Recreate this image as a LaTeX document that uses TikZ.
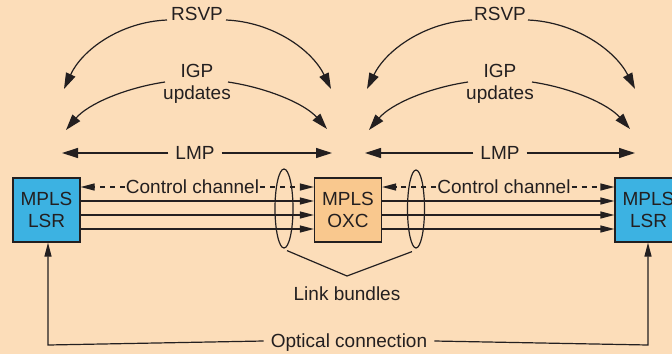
\documentclass[tikz,border=0pt]{standalone}
\usepackage{fontspec}
\setmainfont{Liberation Sans}
\usetikzlibrary{arrows.meta,calc,shapes.geometric}
\definecolor{bgc}{HTML}{FCDDB9}
\definecolor{lsrc}{HTML}{3CB2E2}
\definecolor{oxcc}{HTML}{F9C88E}
\definecolor{ink}{HTML}{231F20}
\begin{document}
\begin{tikzpicture}[x=1pt,y=-1pt,
  lbl/.style={font=\fontsize{19}{22}\selectfont, text=ink, inner sep=1pt},
  boxnode/.style={draw=ink, line width=1.2pt, minimum width=67pt, minimum height=64pt, align=center, font=\fontsize{19}{22}\selectfont, text=ink, inner sep=0pt},
  ln/.style={draw=ink, line width=1.2pt},
  bigtip/.style={-{Triangle[length=16pt,width=10pt]}},
  smalltip/.style={-{Triangle[length=14pt,width=7pt]}},
  dashln/.style={ln, dash pattern=on 5pt off 5pt}
]
\fill[bgc] (0,0) rectangle (672,354);
\useasboundingbox (0,0) rectangle (672,354);

% boxes
\node[boxnode, fill=lsrc] (lsrL) at (46.5,210) {MPLS\\LSR};
\node[boxnode, fill=oxcc] (oxc) at (348,210) {MPLS\\OXC};
\node[boxnode, fill=lsrc] (lsrR) at (648.5,210) {MPLS\\LSR};

% top labels, left group
\node[lbl] (rsvpL) at (197,14) {RSVP};
\node[lbl, align=center] (igpL) at (197,84) {IGP\\updates};
\node[lbl] (lmpL) at (195,153) {LMP};
\node[lbl] (rsvpR) at (500,14) {RSVP};
\node[lbl, align=center] (igpR) at (500,84) {IGP\\updates};
\node[lbl] (lmpR) at (500,153) {LMP};

% arc end coordinates
\coordinate (r1s) at (167,20); \coordinate (r1e) at (64,89);
\coordinate (r2s) at (226,20); \coordinate (r2e) at (331,89);
\coordinate (i1s) at (165,82); \coordinate (i1e) at (66,130);
\coordinate (i2s) at (228,82); \coordinate (i2e) at (327,129);
\coordinate (r3s) at (472,20); \coordinate (r3e) at (367,89);
\coordinate (r4s) at (528,20); \coordinate (r4e) at (635,89);
\coordinate (i3s) at (468,82); \coordinate (i3e) at (369,130);
\coordinate (i4s) at (532,82); \coordinate (i4e) at (630,129);

\draw[ln, bigtip] (r1s) .. controls (120,22) and (82,50) .. (r1e);
\draw[ln, bigtip] (r2s) .. controls (273,22) and (312,50) .. (r2e);
\draw[ln, bigtip] (i1s) .. controls (125,88) and (88,104) .. (i1e);
\draw[ln, bigtip] (i2s) .. controls (268,88) and (305,104) .. (i2e);
\draw[ln, bigtip] (r3s) .. controls (425,22) and (386,50) .. (r3e);
\draw[ln, bigtip] (r4s) .. controls (575,22) and (615,50) .. (r4e);
\draw[ln, bigtip] (i3s) .. controls (428,88) and (391,104) .. (i3e);
\draw[ln, bigtip] (i4s) .. controls (572,88) and (608,104) .. (i4e);

% LMP
\coordinate (m1) at (62,153); \coordinate (m2) at (332,153);
\coordinate (m3) at (365,153); \coordinate (m4) at (635,153);
\draw[ln, bigtip] ([xshift=-6pt]lmpL.west) -- (m1);
\draw[ln, bigtip] ([xshift=6pt]lmpL.east) -- (m2);
\draw[ln, bigtip] ([xshift=-6pt]lmpR.west) -- (m3);
\draw[ln, bigtip] ([xshift=6pt]lmpR.east) -- (m4);

% control channels
\node[lbl] (ccL) at (192.5,187) {Control channel};
\node[lbl] (ccR) at (504,187) {Control channel};
\draw[dashln, smalltip] (ccL.west) -- (lsrL.east |- ccL.west);
\draw[dashln, smalltip] (ccL.east) -- (oxc.west |- ccL.east);
\draw[dashln, smalltip] (ccR.west) -- (oxc.east |- ccR.west);
\draw[dashln, smalltip] (ccR.east) -- (lsrR.west |- ccR.east);

% data links
\foreach \yy in {201,215,229}{
  \draw[ln, smalltip] (lsrL.east |- 0,\yy) -- (oxc.west |- 0,\yy);
  \draw[ln, smalltip] (oxc.east |- 0,\yy) -- (lsrR.west |- 0,\yy);
}

% link bundles
\node[draw=ink, line width=1.2pt, ellipse, minimum width=18pt, minimum height=79pt, inner sep=0pt] (elL) at (284,208.5) {};
\node[draw=ink, line width=1.2pt, ellipse, minimum width=17pt, minimum height=78pt, inner sep=0pt] (elR) at (416,209) {};
\coordinate (apex) at (347,276);
\node[lbl] (lb) at (347,294) {Link bundles};
\draw[ln] ([xshift=3pt,yshift=-2pt]elL.south) -- (apex) -- ([xshift=-4pt,yshift=-3pt]elR.south);

% optical connection
\node[lbl] (oc) at (349,343) {Optical connection};
\coordinate (cL) at (48,345);
\coordinate (cR) at (648,345);
\draw[ln, smalltip] ([xshift=-6pt,yshift=2pt]oc.west) -- (cL) -- (lsrL.south -| cL);
\draw[ln, smalltip] ([xshift=6pt,yshift=2pt]oc.east) -- (cR) -- (lsrR.south -| cR);
\end{tikzpicture}
\end{document}
